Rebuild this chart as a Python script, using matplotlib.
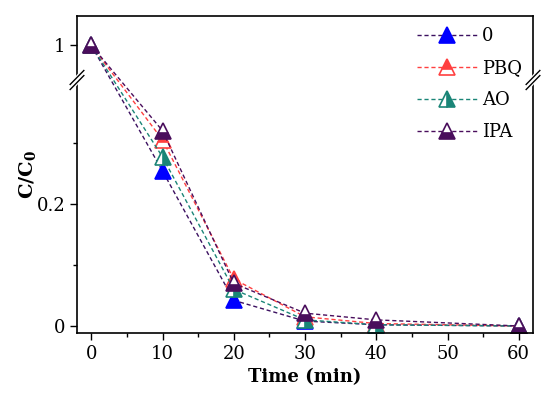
import numpy as np
import matplotlib.pyplot as plt

# datos
time = [0, 10, 20, 30, 40, 60]
c_0 = [1.0, 0.254, 0.042, 0.008, 0.002, 0.0]
c_pbq = [1.0, 0.305, 0.077, 0.015, 0.004, 0.0]
c_ao = [1.0, 0.277, 0.060, 0.010, 0.002, 0.0]
c_ipa = [1.0, 0.320, 0.070, 0.021, 0.010, 0.0]

labels = ['0', 'PBQ', 'AO', 'IPA']
x_ticks = [0, 10, 20, 30, 40, 50, 60]

# eje y partido: 0-0.4 abajo, 0.94-1.05 arriba
low, high = 0.4, 0.94


def forward(y):
    y = np.asarray(y, dtype=float)
    return np.where(y <= low, y, np.where(y < high, low, low + (y - high)))


def inverse(t):
    t = np.asarray(t, dtype=float)
    return np.where(t <= low, t, t + (high - low))


plt.rcParams['font.family'] = ['DejaVu Serif']
plt.rcParams['mathtext.fontset'] = 'dejavuserif'

fig = plt.figure(figsize=(5.5, 3.94), dpi=100)
ax = fig.add_axes([77 / 550, 1 - 333 / 394, (533 - 77) / 550, (333 - 16) / 394])
ax.set_yscale('function', functions=(forward, inverse))

series = [
    (c_0, '#0000FF', '#3B1060', 'full'),
    (c_pbq, '#FF4040', '#FF4040', 'top'),
    (c_ao, '#1A8577', '#1A8577', 'right'),
    (c_ipa, '#4A0E5C', '#4A0E5C', 'bottom'),
]
for (vals, mc, lc, fs), lab in zip(series, labels):
    ax.plot(time, vals, linestyle='--', dashes=(3, 2), color=lc, linewidth=1,
            marker='^', markersize=11, markerfacecolor=mc, markeredgecolor=mc,
            markerfacecoloralt='white', fillstyle=fs, markeredgewidth=1.2,
            label=lab)

ax.set_xlim(-2, 62)
ax.set_ylim(-0.0115, 1.048)
ax.set_xticks(x_ticks)
ax.set_xticks([5, 15, 25, 35, 45, 55], minor=True)
ax.set_yticks([0, 0.2, 1])
ax.set_yticklabels(['0', '0.2', '1'])
ax.set_yticks([0.1, 0.3], minor=True)
ax.tick_params(which='both', direction='out', labelsize=13, width=1)
ax.tick_params(which='major', length=5)
ax.tick_params(which='minor', length=3)
for s in ax.spines.values():
    s.set_linewidth(1.2)

ax.set_xlabel('Time (min)', fontsize=13, fontweight='bold', labelpad=4)
ax.set_ylabel('C/C$_\\mathbf{0}$', fontsize=14, fontweight='bold', labelpad=-1)

# marcas de corte
yb = 1 - (80 - 16) / (333 - 16)
for xb in [0, 1]:
    ax.plot([xb - 0.012, xb + 0.012], [yb - 0.02, yb + 0.02], transform=ax.transAxes,
            color='white', linewidth=5, clip_on=False, zorder=5)
    for d in [-0.008, 0.008]:
        ax.plot([xb - 0.015, xb + 0.015], [yb - 0.022 + d, yb + 0.022 + d],
                transform=ax.transAxes, color='black', linewidth=1,
                clip_on=False, zorder=6)

ax.legend(loc='upper right', frameon=False, fontsize=13, handlelength=3.3,
          labelspacing=0.78, handletextpad=0.3, borderaxespad=0.2)

plt.savefig('out.png', dpi=100)
